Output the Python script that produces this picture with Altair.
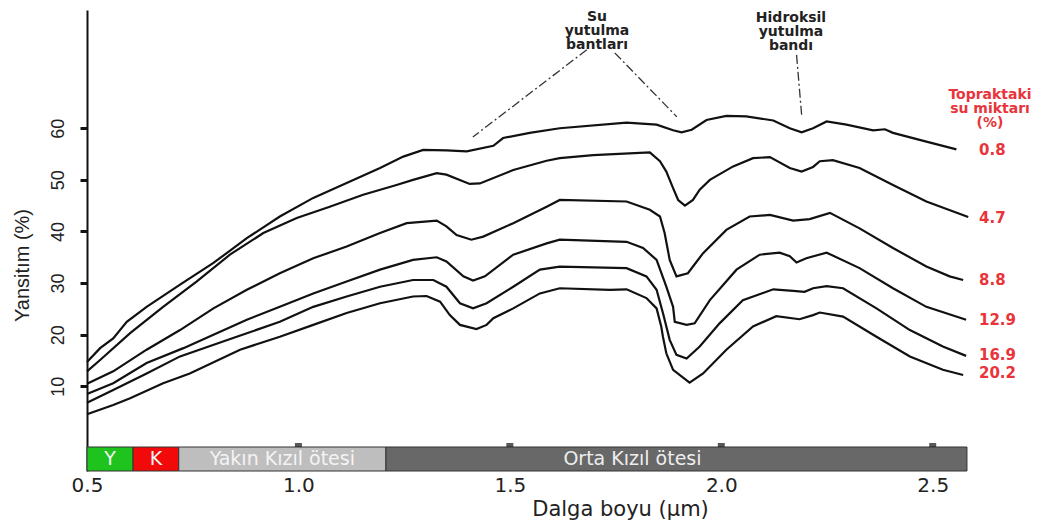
import altair as alt
import pandas as pd

# ---- spectral curves (wavelength µm, reflectance %) ----
wl_08 = [0.5, 0.531, 0.562, 0.594, 0.641, 0.720, 0.799, 0.878, 0.956, 1.035, 1.114, 1.193, 1.248, 1.295,
         1.350, 1.398, 1.461, 1.484, 1.547, 1.618, 1.776, 1.847, 1.886, 1.906, 1.930, 1.965, 2.012, 2.059,
         2.123, 2.162, 2.190, 2.217, 2.249, 2.296, 2.359, 2.387, 2.406, 2.485, 2.556]
r_08 = [14.7, 17.4, 19.3, 22.5, 25.4, 29.7, 33.9, 38.7, 42.9, 46.5, 49.4, 52.3, 54.5, 55.8,
        55.7, 55.5, 56.6, 58.1, 59.1, 60.0, 61.1, 60.7, 59.6, 59.2, 59.7, 61.6, 62.4, 62.3,
        61.5, 60.0, 59.2, 60.0, 61.3, 60.7, 59.6, 59.8, 59.1, 57.4, 55.9]

wl_47 = [0.5, 0.531, 0.602, 0.680, 0.759, 0.838, 0.917, 0.996, 1.074, 1.153, 1.232, 1.271, 1.327, 1.350,
         1.405, 1.429, 1.508, 1.587, 1.618, 1.697, 1.831, 1.855, 1.870, 1.886, 1.898, 1.914, 1.933, 1.949,
         1.973, 2.028, 2.075, 2.115, 2.162, 2.190, 2.217, 2.233, 2.264, 2.327, 2.406, 2.485, 2.584]
r_47 = [12.9, 15.1, 20.3, 25.4, 30.3, 35.5, 39.7, 42.6, 44.8, 47.1, 49.0, 50.0, 51.3, 51.0,
        49.2, 49.3, 51.9, 53.7, 54.2, 54.8, 55.3, 53.6, 51.6, 48.4, 46.1, 45.0, 46.1, 48.1,
        50.0, 52.6, 54.2, 54.4, 52.3, 51.6, 52.5, 53.6, 53.8, 52.3, 49.0, 45.8, 42.8]

wl_88 = [0.5, 0.562, 0.641, 0.720, 0.799, 0.878, 0.956, 1.035, 1.114, 1.193, 1.256, 1.327, 1.350, 1.374,
         1.409, 1.437, 1.508, 1.587, 1.618, 1.776, 1.831, 1.855, 1.866, 1.878, 1.894, 1.921, 1.957, 2.012,
         2.067, 2.115, 2.170, 2.209, 2.257, 2.327, 2.406, 2.485, 2.540, 2.572]
r_88 = [10.5, 12.9, 17.1, 20.9, 25.1, 28.7, 31.9, 34.8, 37.1, 39.7, 41.6, 42.1, 41.0, 39.3,
        38.4, 39.0, 41.6, 44.8, 46.1, 45.8, 44.2, 42.9, 39.7, 34.5, 31.3, 31.9, 35.8, 40.3,
        42.9, 43.2, 42.1, 42.4, 43.6, 40.6, 36.8, 33.2, 31.3, 30.6]

wl_129 = [0.5, 0.562, 0.641, 0.728, 0.799, 0.878, 0.956, 1.035, 1.114, 1.193, 1.271, 1.327, 1.350, 1.390,
          1.413, 1.441, 1.508, 1.587, 1.618, 1.776, 1.815, 1.847, 1.870, 1.886, 1.890, 1.918, 1.937, 1.973,
          2.036, 2.091, 2.138, 2.162, 2.178, 2.201, 2.249, 2.327, 2.406, 2.485, 2.579]
r_129 = [8.5, 10.6, 14.5, 17.4, 20.0, 22.9, 25.4, 28.0, 30.3, 32.6, 34.5, 35.0, 34.2, 31.3,
         30.5, 31.3, 35.5, 37.7, 38.4, 38.0, 36.8, 34.5, 29.3, 25.4, 22.5, 21.9, 22.2, 26.7,
         32.6, 35.5, 35.9, 35.2, 34.0, 34.8, 35.9, 32.9, 29.0, 25.4, 22.9]

wl_169 = [0.5, 0.562, 0.641, 0.720, 0.854, 0.956, 1.035, 1.114, 1.193, 1.271, 1.319, 1.350, 1.382, 1.413,
          1.445, 1.508, 1.571, 1.618, 1.776, 1.823, 1.847, 1.862, 1.878, 1.894, 1.918, 1.949, 1.996, 2.051,
          2.123, 2.170, 2.197, 2.217, 2.249, 2.288, 2.367, 2.446, 2.524, 2.579]
r_169 = [6.8, 9.3, 12.5, 15.8, 19.6, 22.5, 25.4, 27.4, 29.3, 30.6, 30.6, 29.3, 26.1, 25.1,
         26.1, 29.3, 32.6, 33.2, 32.9, 31.3, 28.7, 24.2, 19.0, 16.1, 15.4, 17.7, 22.2, 26.7,
         28.8, 28.5, 28.3, 29.0, 29.4, 29.0, 25.1, 20.9, 17.7, 15.9]

wl_202 = [0.5, 0.562, 0.602, 0.680, 0.743, 0.862, 0.956, 1.035, 1.114, 1.193, 1.271, 1.303, 1.335, 1.358,
          1.382, 1.421, 1.445, 1.461, 1.508, 1.571, 1.618, 1.736, 1.776, 1.823, 1.847, 1.858, 1.862, 1.870,
          1.886, 1.925, 1.957, 2.012, 2.075, 2.130, 2.185, 2.217, 2.233, 2.288, 2.367, 2.446, 2.524, 2.572]
r_202 = [4.6, 6.4, 7.7, 10.6, 12.5, 17.1, 19.6, 21.9, 24.2, 26.1, 27.4, 27.5, 26.4, 23.8,
         21.9, 21.1, 21.9, 23.2, 25.1, 28.0, 29.0, 28.7, 28.8, 27.1, 25.1, 21.6, 19.6, 16.4,
         13.2, 10.7, 12.5, 17.1, 21.6, 23.6, 23.0, 23.8, 24.3, 23.5, 19.6, 15.8, 13.2, 12.2]

# ---- moisture labels ----
moisture_labels = ["0.8", "4.7", "8.8", "12.9", "16.9", "20.2"]
label_r = [55.8, 42.6, 30.6, 22.9, 16.1, 12.6]

# ---- spectral region band ----
band_names = ["Y", "K", "Yakın Kızıl ötesi", "Orta Kızıl ötesi"]
band_start = [0.5, 0.609, 0.717, 1.207]
band_end = [0.609, 0.717, 1.207, 2.581]
band_colors = ["#1ec31e", "#f20a0a", "#bebebe", "#686868"]

# ---- x tick marks on band ----
xtick_vals = [1.0, 1.5, 2.0, 2.5]

# ---- absorption band pointer lines ----
ann_x = [1.682, 1.748, 2.178]
ann_y = [75.2, 74.6, 74.2]
ann_x2 = [1.4125, 1.895, 2.19]
ann_y2 = [58.3, 62.2, 62.6]

curves = [(wl_08, r_08, "0.8"), (wl_47, r_47, "4.7"), (wl_88, r_88, "8.8"),
          (wl_129, r_129, "12.9"), (wl_169, r_169, "16.9"), (wl_202, r_202, "20.2")]
rows = []
for wl, rr, name in curves:
    for a, b in zip(wl, rr):
        rows.append({"wl": a, "r": b, "curve": name})
df = pd.DataFrame(rows)

band_df = pd.DataFrame({"name": band_names, "x0": band_start, "x1": band_end})
band_df["mid"] = (band_df["x0"] + band_df["x1"]) / 2
lab_df = pd.DataFrame({"label": moisture_labels, "r": label_r})
tick_df = pd.DataFrame({"wl": xtick_vals})
ann_df = pd.DataFrame({"x": ann_x, "y": ann_y, "x2": ann_x2, "y2": ann_y2})

FONT = "DejaVu Sans"
xscale = alt.Scale(domain=[0.5, 2.6], nice=False, zero=False)
yscale = alt.Scale(domain=[-6.4, 82.9], nice=False, zero=False)

x_axis = alt.Axis(values=[0.5, 1.0, 1.5, 2.0, 2.5], format=".1f", domain=False, ticks=False,
                  grid=False, labelFont=FONT, labelFontSize=20, labelColor="#222",
                  labelPadding=4, labelFlush=False,
                  title="Dalga boyu (μm)", titleFont=FONT, titleFontSize=21,
                  titleFontWeight="normal", titleColor="#222", titleX=533, titleY=38,
                  titleBaseline="middle", titleAlign="center")
y_axis = alt.Axis(values=[10, 20, 30, 40, 50, 60], grid=False, domain=True, domainColor="#111",
                  domainWidth=2, tickColor="#111", tickWidth=3, tickSize=7,
                  labelFont="Liberation Sans", labelFontSize=18, labelColor="#222",
                  labelAngle=270, labelAlign="center", labelBaseline="bottom", labelPadding=13,
                  title="Yansitım (%)", titleFont="Liberation Sans", titleFontSize=20,
                  titleFontWeight="normal", titleColor="#222", titleAngle=270,
                  titleX=-65, titleY=255, titleAlign="center", titleBaseline="middle")

lines = alt.Chart(df).mark_line(color="#111", strokeWidth=2.2).encode(
    x=alt.X("wl:Q", scale=xscale, axis=x_axis),
    y=alt.Y("r:Q", scale=yscale, axis=y_axis),
    detail="curve:N",
)

band = alt.Chart(band_df).mark_rect(stroke="#333", strokeWidth=1).encode(
    x=alt.X("x0:Q", scale=xscale),
    x2="x1:Q",
    y=alt.value(437),
    y2=alt.value(461),
    color=alt.Color("name:N", scale=alt.Scale(domain=band_names, range=band_colors), legend=None),
)

band_text = alt.Chart(band_df).transform_filter(
    alt.datum.name != "Orta Kızıl ötesi"
).mark_text(font=FONT, fontSize=19, color="#f4f4f4", baseline="middle").encode(
    x=alt.X("mid:Q", scale=xscale),
    y=alt.value(449),
    text="name:N",
)
band_text2 = alt.Chart(band_df).transform_filter(
    alt.datum.name == "Orta Kızıl ötesi"
).mark_text(font=FONT, fontSize=19, color="#eeeeee", baseline="middle", dx=-44).encode(
    x=alt.X("mid:Q", scale=xscale),
    y=alt.value(449),
    text="name:N",
)

ticks = alt.Chart(tick_df).mark_tick(color="#111", thickness=7, size=4).encode(
    x=alt.X("wl:Q", scale=xscale),
    y=alt.value(435),
)

pointers = alt.Chart(ann_df).mark_rule(color="#333", strokeWidth=1.3, strokeDash=[9, 3, 2, 3]).encode(
    x=alt.X("x:Q", scale=xscale), y=alt.Y("y:Q", scale=yscale),
    x2="x2:Q", y2="y2:Q",
)

su_text = alt.Chart(pd.DataFrame({"t": [0]})).mark_text(
    text=["Su", "yutulma", "bantları"], font=FONT, fontSize=14, fontWeight="bold",
    color="#222", lineHeight=14, baseline="middle", align="center"
).encode(x=alt.value(510), y=alt.value(7))

oh_text = alt.Chart(pd.DataFrame({"t": [0]})).mark_text(
    text=["Hidroksil", "yutulma", "bandı"], font=FONT, fontSize=14, fontWeight="bold",
    color="#222", lineHeight=14, baseline="middle", align="center"
).encode(x=alt.value(704), y=alt.value(8))

header = alt.Chart(pd.DataFrame({"t": [0]})).mark_text(
    text=["Topraktaki", "su miktarı", "(%)"], font=FONT, fontSize=14, fontWeight="bold",
    color="#e8343a", lineHeight=14, baseline="middle", align="center"
).encode(x=alt.value(903), y=alt.value(85))

labels = alt.Chart(lab_df).mark_text(
    font=FONT, fontSize=15, fontWeight="bold", color="#e8343a", align="left", baseline="middle"
).encode(
    x=alt.value(892),
    y=alt.Y("r:Q", scale=yscale),
    text="label:N",
)

chart = alt.layer(
    band, ticks, band_text, band_text2, lines, pointers, su_text, oh_text, header, labels
).properties(
    width=888, height=461,
    autosize=alt.AutoSizeParams(type="none"),
    padding={"left": 79, "top": 2, "right": 60, "bottom": 51},
    background="white",
).configure_view(stroke=None)

chart.save("out.html", embed_options={"renderer": "svg", "actions": False})
